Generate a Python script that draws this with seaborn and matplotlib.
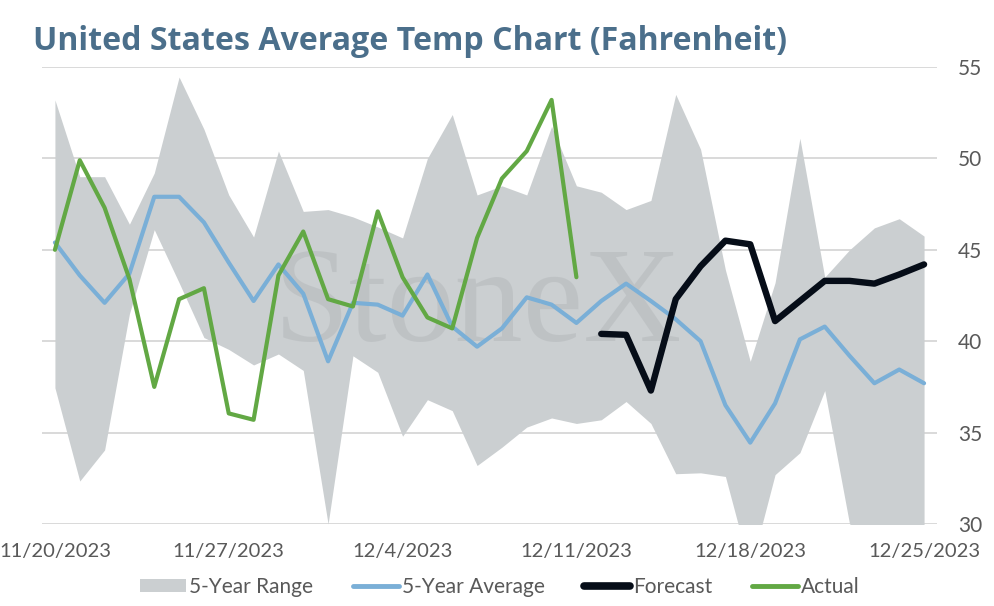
import numpy as np
import pandas as pd
import matplotlib
matplotlib.use("Agg")
import matplotlib.pyplot as plt
import seaborn as sns
from matplotlib.patches import Patch
from matplotlib.lines import Line2D

# ---------------- data ----------------
dates = pd.date_range("2023-11-20", "2023-12-25", freq="D")
range_upper = [53.2, 49.0, 49.0, 46.4, 49.2, 54.45, 51.6, 48.0, 45.7, 50.4, 47.1, 47.2,
               46.8, 46.25, 45.65, 50.0, 52.4, 48.0, 48.5, 48.0, 51.75, 48.5, 48.15, 47.2,
               47.7, 53.5, 50.5, 43.9, 38.9, 43.2, 51.1, 43.5, 45.0, 46.2, 46.7, 45.75]
range_lower = [37.45, 32.35, 34.05, 41.5, 46.1, 43.2, 40.2, 39.55, 38.7, 39.3, 38.4, 30.0,
               39.2, 38.3, 34.8, 36.8, 36.2, 33.2, 34.2, 35.3, 35.8, 35.5, 35.7, 36.7,
               35.5, 32.75, 32.8, 32.6, 27.5, 32.7, 33.9, 37.3, 30.0, 29.5, 29.5, 29.5]
avg_5yr = [45.4, 43.6, 42.1, 43.7, 47.9, 47.9, 46.5, 44.3, 42.2, 44.2, 42.6, 38.9,
           42.1, 42.0, 41.4, 43.65, 40.8, 39.7, 40.7, 42.4, 42.0, 41.0, 42.2, 43.15,
           42.2, 41.2, 40.0, 36.5, 34.45, 36.6, 40.1, 40.8, 39.2, 37.7, 38.45, 37.7]
actual = [45.0, 49.9, 47.3, 43.4, 37.5, 42.3, 42.9, 36.05, 35.7, 43.6, 46.0, 42.3,
          41.9, 47.1, 43.5, 41.3, 40.7, 45.65, 48.9, 50.4, 53.2, 43.5]
forecast = [40.4, 40.35, 37.3, 42.3, 44.1, 45.5, 45.3, 41.1, 42.2, 43.3, 43.3, 43.15,
            43.65, 44.2]
tick_dates = pd.to_datetime(["2023-11-20", "2023-11-27", "2023-12-04",
                             "2023-12-11", "2023-12-18", "2023-12-25"])
tick_labels = ["11/20/2023", "11/27/2023", "12/4/2023", "12/11/2023", "12/18/2023", "12/25/2023"]
y_ticks = [30, 35, 40, 45, 50, 55]

title = "United States Average Temp Chart (Fahrenheit)"

# ---------------- style ----------------
sns.set_theme(style="white")
plt.rcParams['font.family'] = ['Lato', 'DejaVu Sans']

C_RANGE = "#cbcfd1"
C_AVG = "#7aafd7"
C_FC = "#060d18"
C_ACT = "#62a844"
C_TXT = "#595959"
C_TITLE = "#4b6f8b"

df_base = pd.DataFrame({"date": dates, "upper": range_upper, "lower": range_lower, "avg": avg_5yr})
df_act = pd.DataFrame({"date": dates[:len(actual)], "val": actual})
df_fc = pd.DataFrame({"date": dates[len(dates) - len(forecast):], "val": forecast})

fig = plt.figure(figsize=(9.94, 6.06), dpi=100)
ax = fig.add_axes([42 / 994, 1 - 524 / 606, (937 - 42) / 994, (524 - 67) / 606])

ax.fill_between(df_base["date"], df_base["lower"], df_base["upper"],
                color=C_RANGE, linewidth=0, zorder=1)

ax.text(0.487, 0.40, "StoneX", transform=ax.transAxes, ha="center", va="baseline",
        fontsize=98, family="Liberation Serif", color="#9a9ea1", alpha=0.25, zorder=2)

sns.lineplot(data=df_base, x="date", y="avg", ax=ax, color=C_AVG, linewidth=3.0, zorder=3)
sns.lineplot(data=df_fc, x="date", y="val", ax=ax, color=C_FC, linewidth=4.6, zorder=4,
             solid_capstyle="round", solid_joinstyle="round")
sns.lineplot(data=df_act, x="date", y="val", ax=ax, color=C_ACT, linewidth=3.0, zorder=5)

half = pd.Timedelta(hours=12.5)
ax.set_xlim(dates[0] - half, dates[-1] + half)
ax.set_ylim(30, 55)
ax.set_yticks(y_ticks)
ax.set_xticks(tick_dates)
ax.set_xticklabels(tick_labels)
ax.yaxis.tick_right()
ax.grid(axis="y", color="#d9d9d9", linewidth=1.4, zorder=0)
ax.grid(axis="x", visible=False)
ax.set_axisbelow(True)
for s in ax.spines.values():
    s.set_visible(False)
ax.tick_params(axis="y", length=0, pad=15, labelsize=15, labelcolor=C_TXT)
ax.tick_params(axis="x", length=0, pad=14, labelsize=14.5, labelcolor=C_TXT)
ax.set_xlabel("")
ax.set_ylabel("")

fig.text(33 / 994, 1 - 50 / 606, title, ha="left", va="baseline",
         fontsize=23.1, fontweight="bold", color=C_TITLE, family=["Open Sans", "DejaVu Sans"])

handles = [Patch(facecolor=C_RANGE, edgecolor="none"),
           Line2D([], [], color=C_AVG, linewidth=3.5, solid_capstyle="round"),
           Line2D([], [], color=C_FC, linewidth=5.5, solid_capstyle="round"),
           Line2D([], [], color=C_ACT, linewidth=3.5, solid_capstyle="round")]
labels = ["5-Year Range", "5-Year Average", "Forecast", "Actual"]
fig.legend(handles, labels, loc="center", bbox_to_anchor=(0.503, 1 - 587 / 606), ncol=4,
           frameon=False, fontsize=15, labelcolor=C_TXT, handlelength=2.2,
           handleheight=0.6, handletextpad=0.15, columnspacing=1.9)

fig.savefig("out.png", dpi=100)
